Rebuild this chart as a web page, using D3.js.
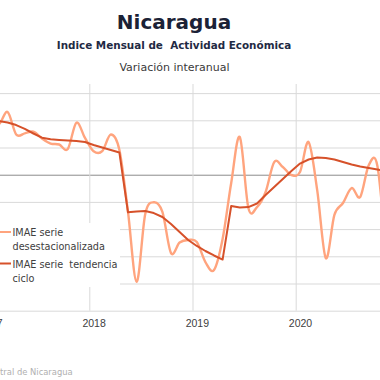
<!DOCTYPE html>
<html>
<head>
<meta charset="utf-8">
<script src="https://cdn.jsdelivr.net/npm/d3@7"></script>
<style>
  html, body { margin: 0; padding: 0; background: #fff; overflow: hidden; }
  svg { display: block; }
  text { white-space: pre; }
</style>
</head>
<body>
<div id="vis"></div>
<script>
// chart data (monthly, Jan 2017 .. Nov 2020)
const YEARS = ["2017", "2018", "2019", "2020"];
const Y_TICKS = [-10, -8, -6, -4, -2, 0, 2, 4, 6];

const DESESTACIONALIZADA = [
  4.02, 3.73, 4.61, 2.96, 3.04, 3.16, 2.66, 2.29, 2.22, 1.89, 3.82, 2.70,
  1.73, 1.73, 2.96, 1.82, -2.74, -7.87, -2.90, -2.03, -2.74, -5.76, -4.99, -4.80,
  -4.95, -6.42, -7.01, -4.73, -0.61, 2.77, -2.45, -2.38, -1.27, 0.93, 0.57, -0.02,
  0.20, 2.40, -1.13, -6.13, -2.96, -2.08, -0.98, -1.64, 0.71, 0.64, -5.90
];
const TENDENCIA = [
  4.10, 3.95, 3.84, 3.65, 3.37, 3.03, 2.72, 2.60, 2.55, 2.51, 2.48, 2.40,
  2.18, 2.00, 1.82, 1.63, -2.76, -2.71, -2.67, -2.82, -3.11, -3.63, -4.21, -4.80,
  -5.24, -5.61, -5.94, -6.24, -2.30, -2.41, -2.38, -2.12, -1.49, -0.90, -0.32, 0.27,
  0.82, 1.12, 1.26, 1.23, 1.12, 0.93, 0.75, 0.60, 0.49, 0.38, 0.27
];

const FRAME_WIDTH = 380;
const FRAME_HEIGHT = 380;
// plot area runs past the picture edges (the original is cropped)
const PLOT = {top: 84, bottom: 310.7, left: -30, right: 410};

const FONT = "'DejaVu Sans', sans-serif";
const LIGHT = "#ffa47e";
const DARK = "#d6512a";

const FRAME = d3.select("#vis")
  .append("svg")
    .attr("width", FRAME_WIDTH)
    .attr("height", FRAME_HEIGHT);

// x in months from 1 Jan 2017, y in percent
const X_SCALE = d3.scaleLinear().domain([0, 36]).range([-13.9, 295.7]);
const Y_SCALE = d3.scaleLinear().domain([-10, 6.67]).range([PLOT.bottom, PLOT.top]);

// titles
FRAME.append("text")
  .attr("x", 174).attr("y", 29.3)
  .attr("text-anchor", "middle")
  .attr("font-family", FONT).attr("font-weight", "bold")
  .attr("font-size", 20).attr("fill", "#1b2236")
  .text("Nicaragua");

FRAME.append("text")
  .attr("x", 174).attr("y", 49)
  .attr("text-anchor", "middle")
  .attr("font-family", FONT).attr("font-weight", "bold")
  .attr("font-size", 10.4).attr("fill", "#1f2a44")
  .text("Indice Mensual de  Actividad Económica");

FRAME.append("text")
  .attr("x", 174.5).attr("y", 70.5)
  .attr("text-anchor", "middle")
  .attr("font-family", FONT)
  .attr("font-size", 11).attr("fill", "#3a3a3a")
  .text("Variación interanual");

// horizontal gridlines
const yGrid = FRAME.append("g")
  .attr("transform", "translate(" + PLOT.left + ",0)")
  .call(d3.axisLeft(Y_SCALE).tickValues(Y_TICKS)
        .tickSize(-(PLOT.right - PLOT.left)).tickFormat(""));
yGrid.select(".domain").remove();
yGrid.selectAll(".tick line")
  .attr("stroke", (d) => d === 0 ? "#8c8c8c" : "#d9d9d9")
  .attr("stroke-width", 1);

// vertical gridlines at year boundaries
const xGrid = FRAME.append("g")
  .attr("transform", "translate(0," + PLOT.bottom + ")")
  .call(d3.axisBottom(X_SCALE).tickValues(YEARS.map((d, i) => 12 * i))
        .tickSize(-(PLOT.bottom - PLOT.top)).tickFormat(""));
xGrid.select(".domain").remove();
xGrid.selectAll(".tick line").attr("stroke", "#d9d9d9").attr("stroke-width", 1);

// year labels, centred on January
const xAxis = FRAME.append("g")
  .attr("transform", "translate(0," + PLOT.bottom + ")")
  .call(d3.axisBottom(X_SCALE).tickValues(YEARS.map((d, i) => 12 * i + 0.5))
        .tickSize(0).tickPadding(9).tickFormat((d, i) => YEARS[i]));
xAxis.select(".domain").remove();
xAxis.selectAll("text")
  .attr("font-family", "'Liberation Sans', sans-serif")
  .attr("font-size", 10.5).attr("fill", "#404040");

// series
const lightLine = d3.line()
  .x((d, i) => X_SCALE(i + 0.5))
  .y((d) => Y_SCALE(d))
  .curve(d3.curveCardinal.tension(0));

const darkLine = d3.line()
  .x((d, i) => X_SCALE(i + 0.5))
  .y((d) => Y_SCALE(d));

FRAME.append("path")
  .datum(DESESTACIONALIZADA)
  .attr("d", lightLine)
  .attr("fill", "none")
  .attr("stroke", LIGHT)
  .attr("stroke-width", 2.4)
  .attr("stroke-linejoin", "round");

FRAME.append("path")
  .datum(TENDENCIA)
  .attr("d", darkLine)
  .attr("fill", "none")
  .attr("stroke", DARK)
  .attr("stroke-width", 2)
  .attr("stroke-linejoin", "round");

// legend (white box over the plot)
const legend = FRAME.append("g");
legend.append("rect")
  .attr("x", -5).attr("y", 223)
  .attr("width", 125).attr("height", 64)
  .attr("fill", "#fff");

const LEGEND_ITEMS = [
  {lines: ["IMAE serie", "desestacionalizada"], color: LIGHT, y: 232},
  {lines: ["IMAE serie  tendencia", "ciclo"], color: DARK, y: 263.5}
];

LEGEND_ITEMS.forEach((item) => {
  legend.append("line")
    .attr("x1", 0).attr("x2", 11)
    .attr("y1", item.y).attr("y2", item.y)
    .attr("stroke", item.color).attr("stroke-width", 2);
  item.lines.forEach((t, j) => {
    legend.append("text")
      .attr("x", 12.5).attr("y", item.y + 4 + j * 14.3)
      .attr("font-family", FONT)
      .attr("font-size", 9.7).attr("fill", "#404040")
      .text(t);
  });
});

// source, cropped at the left edge
FRAME.append("text")
  .attr("x", 72.7).attr("y", 374.5)
  .attr("text-anchor", "end")
  .attr("font-family", FONT)
  .attr("font-size", 8.4).attr("fill", "#b0b0b0")
  .text("Fuente: Banco Central de Nicaragua");
</script>
</body>
</html>
